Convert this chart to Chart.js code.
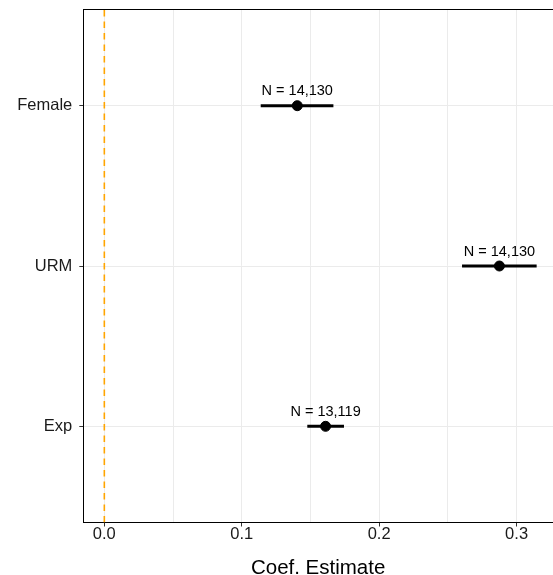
<!DOCTYPE html>
<html>
<head>
<meta charset="utf-8">
<script src="https://cdn.jsdelivr.net/npm/chart.js@4"></script>
<style>
  html, body { margin: 0; padding: 0; background: #fff; }
  #wrap { width: 553px; height: 575px; }
</style>
</head>
<body>
<div id="wrap"><canvas id="myChart" width="553" height="575"></canvas></div>
<script>
// data
const categories = ["Exp", "URM", "Female"];
const estimates = [0.161, 0.2875, 0.1404];
const lowerCI = [0.1477, 0.2603, 0.1138];
const upperCI = [0.1744, 0.3146, 0.1667];
const nLabels = ["N = 13,119", "N = 14,130", "N = 14,130"];
const xMajor = [0, 0.1, 0.2, 0.3];
const xMinor = [0.05, 0.15, 0.25];

const font = "'Liberation Sans', Arial, Helvetica, sans-serif";
const gridGray = "#EBEBEB";

// error bars, one line dataset per row
let barSets = categories.map((c, i) => ({
  type: "line",
  data: [
    { x: lowerCI[i], y: i + 1 },
    { x: upperCI[i], y: i + 1 },
  ],
  borderColor: "#000",
  borderWidth: 3,
  pointRadius: 0,
  order: 2,
}));

// dashed zero line
let zeroLine = {
  type: "line",
  data: [
    { x: 0, y: 0.4 },
    { x: 0, y: 3.6 },
  ],
  borderColor: "#FFA500",
  borderWidth: 1.6,
  borderDash: [6.5, 5],
  pointRadius: 0,
  order: 3,
};

let pointSet = {
  type: "scatter",
  data: estimates.map((v, i) => ({ x: v, y: i + 1 })),
  backgroundColor: "#000",
  borderColor: "#000",
  pointRadius: 5,
  order: 1,
};

// top border + N labels
const extras = {
  id: "extras",
  afterDatasetsDraw(chart) {
    const { ctx, chartArea, scales } = chart;
    ctx.save();
    ctx.strokeStyle = "#000";
    ctx.lineWidth = 1.2;
    ctx.beginPath();
    ctx.moveTo(chartArea.left, chartArea.top);
    ctx.lineTo(chartArea.right, chartArea.top);
    ctx.stroke();

    ctx.fillStyle = "#000";
    ctx.font = "14.5px " + font;
    ctx.textAlign = "center";
    ctx.textBaseline = "middle";
    estimates.forEach((v, i) => {
      const px = scales.x.getPixelForValue(v);
      const py = scales.y.getPixelForValue(i + 1);
      ctx.fillText(nLabels[i], px, py - 14.5);
    });
    ctx.restore();
  },
};

let chart = new Chart(document.getElementById("myChart").getContext("2d"), {
  data: { datasets: [pointSet, ...barSets, zeroLine] },
  options: {
    responsive: false,
    animation: false,
    layout: { autoPadding: false, padding: { top: 9.5, right: 0, left: 0, bottom: 0 } },
    plugins: { legend: { display: false }, tooltip: { enabled: false } },
    scales: {
      x: {
        type: "linear",
        min: -0.0153,
        max: 0.3265,
        afterBuildTicks: (axis) => {
          axis.ticks = [...xMajor, ...xMinor]
            .sort((a, b) => a - b)
            .map((v) => ({ value: v }));
        },
        afterFit: (axis) => {
          axis.height = 52.5;
          axis.paddingLeft = 0;
          axis.paddingRight = 0;
        },
        ticks: {
          color: "#1a1a1a",
          font: { family: font, size: 16.5 },
          padding: -2,
          autoSkip: false,
          maxRotation: 0,
          callback: (v) => (xMajor.includes(v) ? v.toFixed(1) : ""),
        },
        grid: {
          color: gridGray,
          lineWidth: 1,
          tickLength: 4,
          tickColor: (c) => (xMajor.includes(c.tick.value) ? "#333" : "rgba(0,0,0,0)"),
        },
        border: { display: true, color: "#000", width: 1 },
        title: {
          display: true,
          text: "Coef. Estimate",
          color: "#000",
          font: { family: font, size: 20.5 },
          padding: { top: 0, bottom: -6 },
        },
      },
      y: {
        type: "linear",
        min: 0.4,
        max: 3.6,
        afterBuildTicks: (axis) => {
          axis.ticks = categories.map((c, i) => ({ value: i + 1 }));
        },
        afterFit: (axis) => {
          axis.width = 83.3;
          axis.paddingTop = 0;
          axis.paddingBottom = 0;
        },
        ticks: {
          color: "#1a1a1a",
          font: { family: font, size: 16.5 },
          padding: 7,
          callback: (v) => categories[v - 1],
        },
        grid: { color: gridGray, lineWidth: 1, tickLength: 4, tickColor: "#333" },
        border: { display: true, color: "#000", width: 1 },
      },
    },
  },
  plugins: [extras],
});
</script>
</body>
</html>
